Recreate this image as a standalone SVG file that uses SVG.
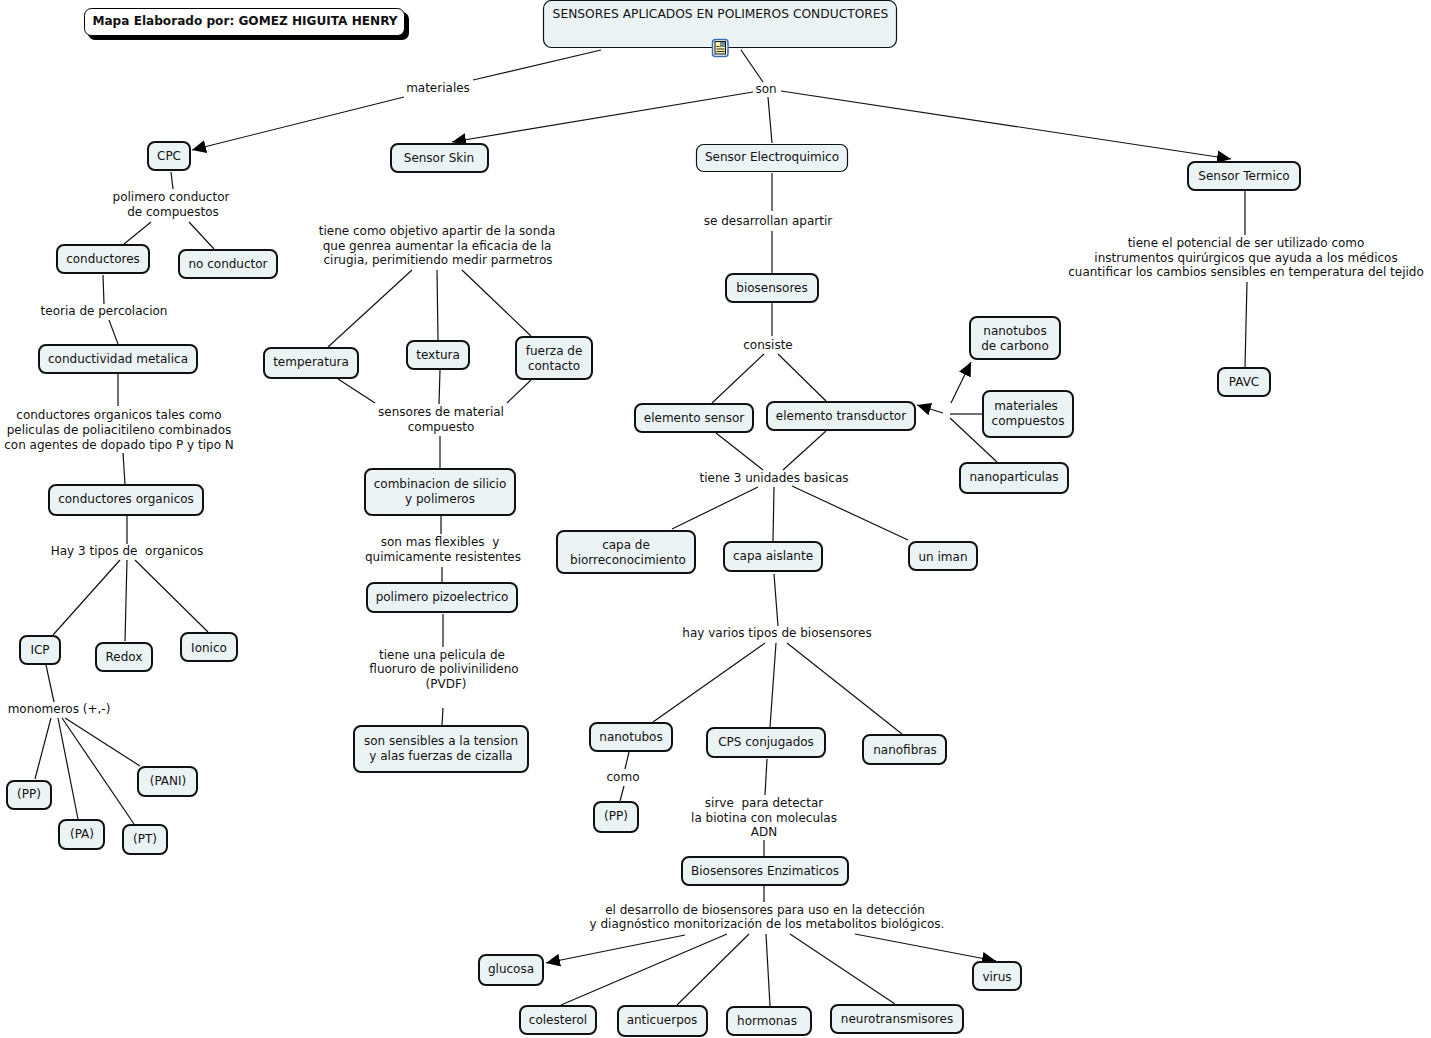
<svg xmlns="http://www.w3.org/2000/svg" width="1431" height="1038" viewBox="0 0 1431 1038">
<style>
text{font-family:"DejaVu Sans","Verdana",sans-serif;font-size:12px;fill:#111;text-anchor:middle;white-space:pre}
.n rect{fill:#ecf3f5;stroke:#111;stroke-width:2}
.t rect{stroke-width:1.2}
.c line{stroke:#111;stroke-width:1.2;fill:none}
.a{marker-end:url(#arr)}
</style>
<defs>
<marker id="arr" markerUnits="userSpaceOnUse" markerWidth="15" markerHeight="14" viewBox="0 0 15 14" refX="14" refY="7" orient="auto"><path d="M0,0.500L14,7L0,13.500z" fill="#000"/></marker>
</defs>
<rect width="1431" height="1038" fill="#fff"/>
<g id="connectors" class="c">
<line x1="601" y1="50" x2="473" y2="80"/><line class="a" x1="404" y1="97" x2="192" y2="150"/>
<line x1="741" y1="50" x2="763" y2="82"/><line class="a" x1="753" y1="92" x2="452" y2="142"/><line x1="768" y1="97" x2="772" y2="143"/><line class="a" x1="781" y1="91" x2="1231" y2="159"/>
<line x1="171" y1="172" x2="173" y2="189"/><line x1="151" y1="222" x2="124" y2="244"/><line x1="189" y1="222" x2="214" y2="249"/>
<line x1="103" y1="275" x2="104" y2="304"/><line x1="109" y1="320" x2="118" y2="344"/>
<line x1="118" y1="374" x2="118" y2="406"/><line x1="123" y1="453" x2="125" y2="484"/>
<line x1="127" y1="516" x2="127" y2="544"/><line x1="120" y1="560" x2="53" y2="635"/><line x1="127" y1="560" x2="125" y2="641"/><line x1="135" y1="560" x2="208" y2="632"/>
<line x1="46" y1="665" x2="54" y2="702"/><line x1="51" y1="718" x2="35" y2="779"/><line x1="58" y1="718" x2="78" y2="819"/><line x1="62" y1="718" x2="134" y2="824"/><line x1="65" y1="718" x2="140" y2="766"/>
<line x1="412" y1="270" x2="328" y2="347"/><line x1="437" y1="270" x2="438" y2="340"/><line x1="462" y1="270" x2="531" y2="336"/>
<line x1="338" y1="379" x2="375" y2="403"/><line x1="440" y1="370" x2="439" y2="404"/><line x1="531" y1="380" x2="507" y2="403"/>
<line x1="440" y1="436" x2="440" y2="468"/><line x1="441" y1="516" x2="441" y2="534"/><line x1="442" y1="567" x2="442" y2="582"/><line x1="443" y1="614" x2="443" y2="647"/><line x1="443" y1="708" x2="442" y2="725"/>
<line x1="772" y1="173" x2="772" y2="211"/><line x1="772" y1="231" x2="772" y2="273"/><line x1="772" y1="303" x2="772" y2="336"/>
<line x1="764" y1="354" x2="712" y2="403"/><line x1="778" y1="354" x2="826" y2="401"/>
<line x1="716" y1="433" x2="763" y2="470"/><line x1="826" y1="431" x2="783" y2="470"/>
<line x1="758" y1="487" x2="672" y2="529"/><line x1="774" y1="487" x2="773" y2="541"/><line x1="792" y1="486" x2="908" y2="540"/>
<line x1="774" y1="574" x2="778" y2="626"/><line x1="765" y1="643" x2="653" y2="722"/><line x1="776" y1="643" x2="770" y2="727"/><line x1="787" y1="643" x2="902" y2="734"/>
<line x1="629" y1="752" x2="625" y2="769"/><line x1="624" y1="786" x2="620" y2="801"/>
<line x1="767" y1="759" x2="765" y2="795"/><line x1="764" y1="840" x2="764" y2="856"/><line x1="764" y1="886" x2="764" y2="902"/>
<line class="a" x1="685" y1="935" x2="546" y2="963"/><line x1="727" y1="934" x2="561" y2="1005"/><line x1="749" y1="934" x2="677" y2="1005"/><line x1="766" y1="934" x2="770" y2="1006"/><line x1="790" y1="934" x2="895" y2="1004"/><line class="a" x1="855" y1="934" x2="996" y2="961"/>
<line class="a" x1="943" y1="413" x2="917" y2="405"/><line class="a" x1="951" y1="403" x2="971" y2="362"/><line x1="950" y1="414" x2="982" y2="414"/><line x1="950" y1="418" x2="997" y2="462"/>
<line x1="1245" y1="191" x2="1245" y2="235"/><line x1="1247" y1="282" x2="1245" y2="367"/>
</g>
<g id="credit"><rect x="88" y="12" width="321" height="28" rx="7" fill="#000"/><rect x="84.500" y="8.500" width="320" height="27" rx="7" fill="#fff" stroke="#000" stroke-width="1"/><text x="245" y="25" style="font-weight:bold;font-size:12.100px">Mapa Elaborado por: GOMEZ HIGUITA HENRY</text></g>
<g id="title" class="n t"><rect x="543.500" y="0.500" width="353" height="47" rx="8"/><text x="720.500" y="18" style="font-size:12.250px">SENSORES APLICADOS EN POLIMEROS CONDUCTORES</text>
<rect x="712.500" y="39.500" width="15.500" height="17" rx="3" style="fill:#fff;stroke:#3a6db5;stroke-width:1.500"/><rect x="715" y="41.500" width="10.500" height="12.500" style="fill:#f6f0a8;stroke:#111;stroke-width:1"/><rect x="720" y="42" width="5" height="5" style="fill:#6f8f90;stroke:none"/><path d="M716.500,46.500h3M716.500,49h8M716.500,51.500h8" stroke="#111" stroke-width=".9" fill="none"/></g>
<g id="n-cpc" class="n"><rect x="148" y="142" width="42" height="28" rx="7"/><text x="169" y="160">CPC</text></g>
<g id="n-skin" class="n"><rect x="391" y="144" width="97" height="28" rx="7"/><text x="439" y="162">Sensor Skin</text></g>
<g id="n-electro" class="n t"><rect x="696.500" y="144.500" width="151" height="27" rx="7"/><text x="772" y="161">Sensor Electroquimico</text></g>
<g id="n-termico" class="n"><rect x="1188" y="162" width="112" height="28" rx="7"/><text x="1244" y="180">Sensor Termico</text></g>
<g id="n-conductores" class="n"><rect x="57" y="245" width="92" height="28" rx="7"/><text x="103" y="263">conductores</text></g>
<g id="n-noconductor" class="n"><rect x="179" y="250" width="98" height="28" rx="7"/><text x="228" y="268">no conductor</text></g>
<g id="n-metalica" class="n"><rect x="39" y="345" width="158" height="28" rx="7"/><text x="118" y="363">conductividad metalica</text></g>
<g id="n-organicos" class="n"><rect x="49" y="485" width="154" height="30" rx="7"/><text x="126" y="503">conductores organicos</text></g>
<g id="n-icp" class="n"><rect x="20" y="636" width="40" height="28" rx="7"/><text x="40" y="654">ICP</text></g>
<g id="n-redox" class="n"><rect x="96" y="643" width="56" height="28" rx="7"/><text x="124" y="661">Redox</text></g>
<g id="n-ionico" class="n"><rect x="181" y="633" width="56" height="28" rx="7"/><text x="209" y="652">Ionico</text></g>
<g id="n-pp1" class="n"><rect x="7" y="781" width="44" height="28" rx="7"/><text x="29" y="798">(PP)</text></g>
<g id="n-pa" class="n"><rect x="59" y="820" width="45" height="29" rx="7"/><text x="82" y="838">(PA)</text></g>
<g id="n-pt" class="n"><rect x="123" y="825" width="44" height="29" rx="7"/><text x="145" y="843">(PT)</text></g>
<g id="n-pani" class="n"><rect x="138" y="767" width="59" height="29" rx="7"/><text x="168" y="785">(PANI)</text></g>
<g id="n-temperatura" class="n"><rect x="264" y="348" width="94" height="30" rx="7"/><text x="311" y="366">temperatura</text></g>
<g id="n-textura" class="n"><rect x="407" y="341" width="62" height="28" rx="7"/><text x="438" y="359">textura</text></g>
<g id="n-fuerza" class="n"><rect x="516" y="337" width="76" height="42" rx="7"/><text x="554" y="355">fuerza de</text><text x="554" y="370">contacto</text></g>
<g id="n-combinacion" class="n"><rect x="365" y="469" width="150" height="46" rx="7"/><text x="440" y="488">combinacion de silicio</text><text x="440" y="503">y polimeros</text></g>
<g id="n-pizo" class="n"><rect x="367" y="583" width="150" height="29" rx="7"/><text x="442" y="601">polimero pizoelectrico</text></g>
<g id="n-sensibles" class="n"><rect x="354" y="726" width="174" height="46" rx="7"/><text x="441" y="745">son sensibles a la tension</text><text x="441" y="760">y alas fuerzas de cizalla</text></g>
<g id="n-biosensores" class="n"><rect x="726" y="274" width="92" height="28" rx="7"/><text x="772" y="292">biosensores</text></g>
<g id="n-sensor" class="n"><rect x="635" y="404" width="118" height="28" rx="7"/><text x="694" y="422">elemento sensor</text></g>
<g id="n-transductor" class="n"><rect x="767" y="402" width="148" height="28" rx="7"/><text x="841" y="420">elemento transductor</text></g>
<g id="n-carbono" class="n"><rect x="970" y="317" width="90" height="42" rx="7"/><text x="1015" y="335">nanotubos</text><text x="1015" y="350">de carbono</text></g>
<g id="n-compuestos" class="n"><rect x="983" y="391" width="90" height="46" rx="7"/><text x="1026" y="410">materiales</text><text x="1028" y="425">compuestos</text></g>
<g id="n-nanoparticulas" class="n"><rect x="960" y="463" width="108" height="30" rx="7"/><text x="1014" y="481">nanoparticulas</text></g>
<g id="n-capa" class="n"><rect x="557" y="531" width="138" height="42" rx="7"/><text x="626" y="549">capa de</text><text x="628" y="564">biorreconocimiento</text></g>
<g id="n-aislante" class="n"><rect x="724" y="542" width="98" height="29" rx="7"/><text x="773" y="560">capa aislante</text></g>
<g id="n-iman" class="n"><rect x="909" y="542" width="68" height="28" rx="7"/><text x="943" y="561">un iman</text></g>
<g id="n-nanotubos" class="n"><rect x="590" y="723" width="82" height="28" rx="7"/><text x="631" y="741">nanotubos</text></g>
<g id="n-cps" class="n"><rect x="707" y="728" width="118" height="29" rx="7"/><text x="766" y="746">CPS conjugados</text></g>
<g id="n-nanofibras" class="n"><rect x="863" y="735" width="83" height="29" rx="7"/><text x="905" y="754">nanofibras</text></g>
<g id="n-pp2" class="n"><rect x="594" y="802" width="44" height="30" rx="7"/><text x="616" y="820">(PP)</text></g>
<g id="n-enzimaticos" class="n"><rect x="682" y="857" width="166" height="28" rx="7"/><text x="765" y="875">Biosensores Enzimaticos</text></g>
<g id="n-glucosa" class="n"><rect x="479" y="955" width="64" height="30" rx="7"/><text x="511" y="973">glucosa</text></g>
<g id="n-colesterol" class="n"><rect x="520" y="1006" width="76" height="28" rx="7"/><text x="558" y="1024">colesterol</text></g>
<g id="n-anticuerpos" class="n"><rect x="618" y="1006" width="89" height="30" rx="7"/><text x="662" y="1024">anticuerpos</text></g>
<g id="n-hormonas" class="n"><rect x="727" y="1007" width="84" height="28" rx="7"/><text x="767" y="1025">hormonas</text></g>
<g id="n-neuro" class="n"><rect x="831" y="1005" width="132" height="28" rx="7"/><text x="897" y="1023">neurotransmisores</text></g>
<g id="n-virus" class="n"><rect x="973" y="962" width="48" height="28" rx="7"/><text x="997" y="981">virus</text></g>
<g id="n-pavc" class="n"><rect x="1218" y="368" width="52" height="28" rx="7"/><text x="1244" y="386">PAVC</text></g>
<g id="labels">
<text x="438" y="92">materiales</text>
<text x="766" y="93">son</text>
<text x="171" y="201">polimero conductor</text><text x="173" y="216">de compuestos</text>
<text x="104" y="315">teoria de percolacion</text>
<text x="119" y="419">conductores organicos tales como</text><text x="119" y="434">peliculas de poliacitileno combinados</text><text x="119" y="449">con agentes de dopado tipo P y tipo N</text>
<text x="127" y="555">Hay 3 tipos de  organicos</text>
<text x="59" y="713">monomeros (+,-)</text>
<text x="437" y="235">tiene como objetivo apartir de la sonda</text><text x="437" y="250">que genrea aumentar la eficacia de la</text><text x="438" y="264">cirugia, perimitiendo medir parmetros</text>
<text x="441" y="416">sensores de material</text><text x="441" y="431">compuesto</text>
<text x="440" y="546">son mas flexibles  y</text><text x="443" y="561">quimicamente resistentes</text>
<text x="442" y="659">tiene una pelicula de</text><text x="444" y="673">fluoruro de polivinilideno</text><text x="446" y="688">(PVDF)</text>
<text x="768" y="225">se desarrollan apartir</text>
<text x="768" y="349">consiste</text>
<text x="774" y="482">tiene 3 unidades basicas</text>
<text x="777" y="637">hay varios tipos de biosensores</text>
<text x="623" y="781">como</text>
<text x="764" y="807">sirve  para detectar</text><text x="764" y="822">la biotina con moleculas</text><text x="764" y="836">ADN</text>
<text x="765" y="914">el desarrollo de biosensores para uso en la detección</text><text x="767" y="928">y diagnóstico monitorización de los metabolitos biológicos.</text>
<text x="1246" y="247">tiene el potencial de ser utilizado como</text><text x="1246" y="262">instrumentos quirúrgicos que ayuda a los médicos</text><text x="1246" y="276">cuantificar los cambios sensibles en temperatura del tejido</text>
</g>
</svg>
